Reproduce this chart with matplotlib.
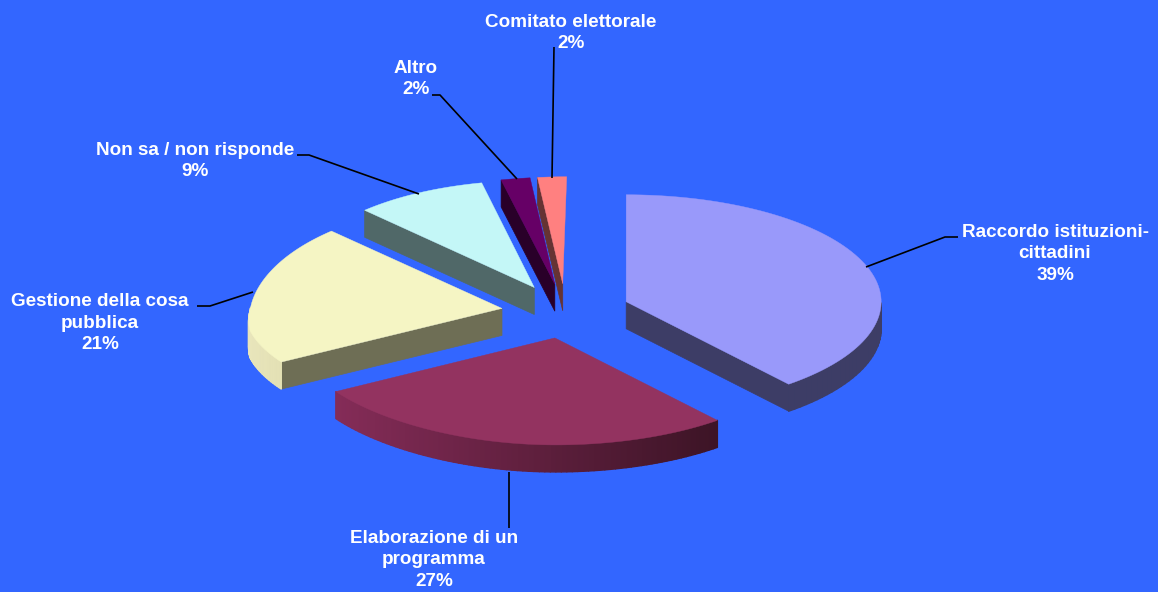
import numpy as np
import matplotlib
matplotlib.use('Agg')
import matplotlib.pyplot as plt
from matplotlib.collections import PolyCollection

# Data, clockwise from 12 o'clock
categories = ['Raccordo istituzioni-\ncittadini', 'Elaborazione di un\nprogramma',
              'Gestione della cosa\npubblica', 'Non sa / non risponde', 'Altro',
              'Comitato elettorale']
values = [39, 27, 21, 9, 2, 2]

# Styles
top_colors = ['#9999fa', '#933360', '#f5f5c4', '#c4f7f7', '#660066', '#ff8080']
wall_colors = ['#3d3d66', '#7f2a52', '#6e6e55', '#506868', '#290029', '#663333']
rim_left = ['#3d3d66', '#852c58', '#e8e5bb', '#506868', '#290029', '#663333']
rim_right = ['#3d3d66', '#3d1426', '#dddaaa', '#506868', '#290029', '#663333']
draw_order = [3, 4, 5, 2, 0, 1]

# Layout in pixels
cx, cy = 565, 311
rx, ry = 255, 107
explode = 65
depth = 27
vanish_x = 627
label_pos = [(1055, 254), (434, 560), (100, 323), (195, 161), (416, 79), (571, 33)]
leaders = [[(958, 237), (945, 237), (866, 267)],
           [(509, 528), (509, 472)],
           [(197, 306), (210, 306), (253, 292)],
           [(297, 155), (309, 155), (419, 194)],
           [(432, 95), (440, 95), (517, 179)],
           [(554, 47), (552, 178)]]


def project(a, r, mid):
    # point on the pie plane at angle a (radians, clockwise from top), radius r in 0..1
    X = (explode * np.sin(mid) + r * rx * np.sin(a)) / rx
    Y = (explode * np.cos(mid) + r * rx * np.cos(a)) / rx
    x0 = cx + X * rx
    # rough perspective: the far left side of the pie shrinks and lifts
    s = 1 - 0.06 * np.clip(Y + 0.2, 0, None)
    x = np.where(x0 < vanish_x, vanish_x + (x0 - vanish_x) * s, x0)
    x = x - np.where((X < 0) & (Y < 0), 6 * np.abs(Y) * X ** 2, 0)
    lift = np.where(X < 0, 6 * np.abs(Y) * X ** 2, 0)
    return x, cy - Y * ry - lift


def mix(c1, c2, t):
    c1 = np.array(matplotlib.colors.to_rgb(c1))
    c2 = np.array(matplotlib.colors.to_rgb(c2))
    return tuple(c1 + (c2 - c1) * t)


fig = plt.figure(figsize=(11.58, 5.92), dpi=100, facecolor='#3366ff')
ax = fig.add_axes([0, 0, 1, 1])
ax.set_xlim(0, 1158)
ax.set_ylim(592, 0)
ax.axis('off')

edges = np.cumsum([0] + values) / sum(values) * 2 * np.pi

for i in draw_order:
    a0, a1 = edges[i], edges[i + 1]
    mid = (a0 + a1) / 2
    ang = np.linspace(a0, a1, 80)
    x, y = project(ang, 1, mid)
    px, py = project(0, 0, mid)

    # radial wall facing the viewer
    for a, vis in ((a0, np.sin(a0) < 0), (a1, np.sin(a1) > 0)):
        if vis:
            ex, ey = project(a, 1, mid)
            ax.fill([px, ex, ex, px], [py, ey, ey + depth, py + depth],
                    color=wall_colors[i], lw=0.5, zorder=2)

    # outer rim, only the front part
    polys, cols = [], []
    for j in range(len(ang) - 1):
        if np.cos((ang[j] + ang[j + 1]) / 2) < 0:
            polys.append([(x[j], y[j]), (x[j + 1], y[j + 1]),
                          (x[j + 1], y[j + 1] + depth), (x[j], y[j] + depth)])
            # shade runs from left to right on screen
            t = (x[j] - x.min()) / max(x.max() - x.min(), 1)
            cols.append(mix(rim_left[i], rim_right[i], t))
    if polys:
        ax.add_collection(PolyCollection(polys, facecolors=cols, edgecolors=cols,
                                         linewidths=1.0, zorder=2))

    ax.fill(np.r_[px, x], np.r_[py, y], color=top_colors[i], lw=0.3, zorder=2)

# leaders
for pts in leaders:
    lx, ly = zip(*pts)
    ax.plot(lx, ly, color='black', lw=1.2, zorder=4, solid_capstyle='butt')

# labels
for name, v, (lx, ly) in zip(categories, values, label_pos):
    ax.text(lx, ly, f'{name}\n{v}%', color='white', family=['Liberation Sans', 'DejaVu Sans'],
            weight='bold', fontsize=13.6, ha='center', va='center', linespacing=1.33, zorder=5)

fig.savefig('out.png', dpi=100, facecolor=fig.get_facecolor())
